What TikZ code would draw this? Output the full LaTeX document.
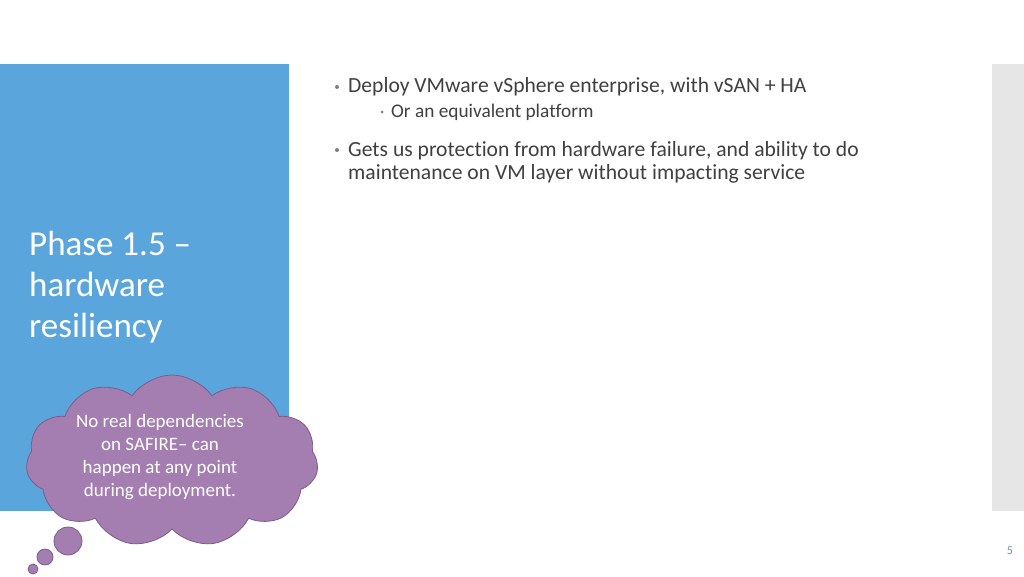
\documentclass[tikz,border=0pt]{standalone}
\usepackage{fontspec}
\setmainfont[Ligatures=NoCommon]{Carlito}
\usetikzlibrary{shapes.symbols}
\definecolor{sideblue}{HTML}{5AA6DC}
\definecolor{graybar}{HTML}{E6E6E6}
\definecolor{cloudfill}{HTML}{A47DB1}
\definecolor{cloudline}{HTML}{7C5C8C}
\definecolor{bodytext}{HTML}{404040}
\definecolor{bulletc}{HTML}{7F7F7F}
\begin{document}
\begin{tikzpicture}[x=1pt,y=-1pt,
  body/.style={anchor=west,inner sep=0,text=bodytext,font=\fontsize{21.6}{23}\selectfont},
  sub/.style={anchor=west,inner sep=0,text=bodytext,font=\fontsize{19.3}{21}\selectfont},
  dot/.style={circle,fill=bulletc,inner sep=0,minimum size=4pt},
  bub/.style={fill=cloudfill,draw=cloudline,line width=0.8pt}]
\useasboundingbox (0,0) rectangle (1024,576);
\fill[white] (0,0) rectangle (1024,576);
\fill[sideblue] (0,64) rectangle (289,511);
\fill[graybar] (992,64) rectangle (1024,511);
\node[anchor=north west,align=left,inner sep=0,text=white,font=\fontsize{35}{41}\selectfont] (title) at (29,231) {Phase 1.5 --\\hardware\\resiliency};
\node[dot] (b1) at (337,87) {};
\node[body] (t1) at (348,87) {Deploy VMware vSphere enterprise, with vSAN + HA};
\node[dot,minimum size=3pt] (b2) at (382,112) {};
\node[sub] (t2) at (391,112) {Or an equivalent platform};
\node[dot] (b3) at (337,150) {};
\node[body,align=left,anchor=north west] (t3) at (348,141) {Gets us protection from hardware failure, and ability to do\\maintenance on VM layer without impacting service};
\node[cloud,cloud puffs=11,cloud puff arc=110,aspect=1.7,bub,minimum width=292pt,minimum height=172pt] (cl) at (172,461) {};
\node[align=center,text=white,font=\fontsize{19}{23}\selectfont] (ct) at (160,457) {No real dependencies\\on SAFIRE-- can\\happen at any point\\during deployment.};
\node[circle,bub,minimum size=28pt,inner sep=0] (c1) at (68,541) {};
\node[circle,bub,minimum size=16pt,inner sep=0] (c2) at (45,557) {};
\node[circle,bub,minimum size=10pt,inner sep=0] (c3) at (33,569) {};
\node[text=sideblue!70!gray,font=\fontsize{12}{13}\selectfont] (pg) at (1010,551) {5};
\end{tikzpicture}
\end{document}
